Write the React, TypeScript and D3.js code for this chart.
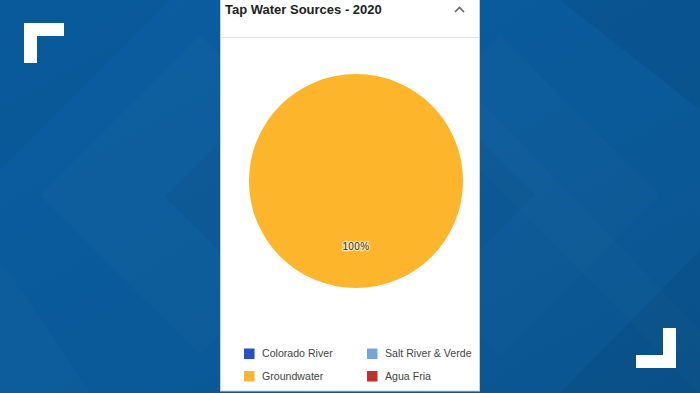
import React from "react";
import * as d3 from "d3";

const categories = ["Colorado River", "Salt River & Verde", "Groundwater", "Agua Fria"];
const shares = [0, 0, 100, 0];
const colors = ["#2450c8", "#74a6dc", "#fdb62b", "#c2302b"];
const title = "Tap Water Sources - 2020";

const W = 700;
const H = 393;

export default function App() {
  const cx = 356;
  const cy = 181;
  const r = 107;
  const data = categories.map((c, i) => ({ name: c, value: shares[i], color: colors[i] }));
  const pie = d3.pie<any>().value((d) => d.value).sort(null);
  const arcs = pie(data).filter((a) => a.value > 0);
  const arc = d3.arc<any>().innerRadius(0).outerRadius(r);
  const labelArc = d3.arc<any>().innerRadius(r * 0.61).outerRadius(r * 0.61);
  const total = d3.sum(shares);
  const fmt = d3.format(".0%");

  const legendX = d3.scaleOrdinal<number, number>().domain([0, 1]).range([244, 367]);
  const legendY = d3.scaleOrdinal<number, number>().domain([0, 1]).range([353.5, 376]);

  return (
    <svg width={W} height={H} style={{ position: "fixed", left: 0, top: 0 }} fontFamily="'Liberation Sans', Arial, sans-serif">
      <defs>
        <linearGradient id="bg" x1="0" y1="0" x2="1" y2="1">
          <stop offset="0" stopColor="#0a5da0" />
          <stop offset="0.5" stopColor="#0a5a9a" />
          <stop offset="1" stopColor="#0a558f" />
        </linearGradient>
      </defs>
      <rect width={W} height={H} fill="url(#bg)" />
      {/* background diamond pattern */}
      <polygon points="40,195 200,35 360,195 200,355" fill="#ffffff" opacity={0.018} />
      <polygon points="165,197 260,102 355,197 260,292" fill="#000000" opacity={0.035} />
      <polygon points="0,0 170,0 0,170" fill="#000000" opacity={0.03} />
      <polygon points="0,260 90,393 0,393" fill="#ffffff" opacity={0.015} />
      <polygon points="660,195 500,35 340,195 500,355" fill="#ffffff" opacity={0.015} />
      <polygon points="535,195 440,100 345,195 440,290" fill="#000000" opacity={0.03} />
      <polygon points="560,0 700,0 700,110" fill="#000000" opacity={0.06} />
      <polygon points="480,100 700,330 700,393 480,170" fill="#ffffff" opacity={0.015} />
      <polygon points="560,393 700,250 700,393" fill="#000000" opacity={0.05} />

      {/* corner brackets */}
      <path d="M24,23 H64 V36 H37 V63 H24 Z" fill="#ffffff" />
      <path d="M676,368 H636 V355 H663 V328 H676 Z" fill="#ffffff" />

      {/* panel */}
      <rect x={220.5} y={-1} width={259} height={392} fill="#ffffff" stroke="#c9ced4" />
      <line x1={221} x2={479} y1={37.5} y2={37.5} stroke="#e3e3e3" />
      <text x={225} y={14} fontSize={13} fontWeight="bold" fill="#222">{title}</text>
      <path d="M455,12 L459.5,7.5 L464,12" fill="none" stroke="#666" strokeWidth={1.6} />

      {arcs.map((a, i) => (
        <path key={i} d={arc(a) as string} transform={`translate(${cx},${cy})`} fill={a.data.color} />
      ))}
      {arcs.map((a, i) => {
        const [lx, ly] = labelArc.centroid(a);
        return (
          <text key={"l" + i} x={cx + lx} y={cy + ly} dy="0.35em" textAnchor="middle" fontSize={10}
            letterSpacing={0.4} fill="#333" stroke="#ffffff" strokeWidth={2.5} strokeOpacity={0.6} paintOrder="stroke">
            {fmt(a.value / total)}
          </text>
        );
      })}

      {data.map((d, i) => {
        const x = legendX(i % 2);
        const y = legendY(Math.floor(i / 2));
        return (
          <g key={d.name}>
            <rect x={x} y={y - 5} width={10.5} height={10.5} fill={d.color} />
            <text x={x + 18} y={y} dy="0.35em" fontSize={10.6} fill="#444">{d.name}</text>
          </g>
        );
      })}
    </svg>
  );
}
